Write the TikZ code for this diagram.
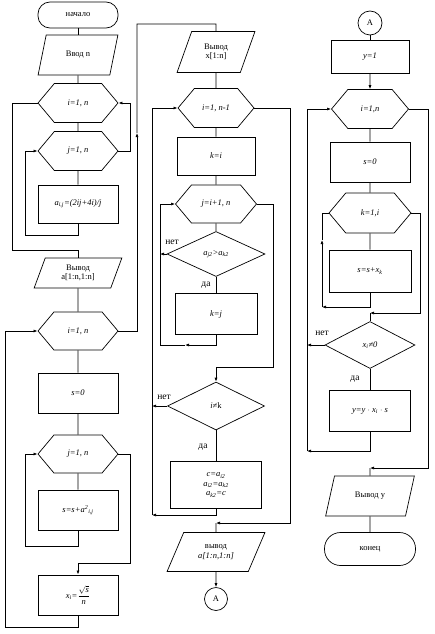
\documentclass[tikz,border=0pt]{standalone}
\usepackage{amsmath}
\usepackage{fontspec}
\setmainfont{Liberation Serif}
\usetikzlibrary{arrows.meta,shapes.geometric,shapes.symbols}
\newcommand{\sub}[1]{\textsubscript{\textit{#1}}}

\begin{document}
\begin{tikzpicture}[
    x=1pt, y=-1pt,
    >={Latex[length=4pt,width=3pt]},
    line width=0.7pt,
    every node/.style={font=\fontsize{8.5}{9.5}\selectfont, inner sep=1pt, align=center},
    termbox/.style={draw, rounded corners=12pt, minimum width=80pt, minimum height=26pt},
    iobox/.style={draw, trapezium, trapezium left angle=70, trapezium right angle=110,
      trapezium stretches=true, minimum width=80pt, minimum height=40pt},
    procbox/.style={draw, rectangle, line width=1pt, minimum width=80pt, minimum height=40pt},
    hexbox/.style={draw, signal, signal to=east and west, signal pointer angle=100,
      minimum width=80pt, minimum height=39pt},
    condbox/.style={draw, diamond, aspect=2, minimum width=97pt, minimum height=46pt},
    connbox/.style={draw, circle, minimum size=23pt, inner sep=0pt},
    lbl/.style={font=\fontsize{9.5}{10}\selectfont}
  ]
  \useasboundingbox (0,0) rectangle (434,634);

  % column 1: fill matrix, compute x
  \node[termbox] (start) at (78,15) {начало};
  \node[iobox] (inN) at (78,55) {Ввод n};
  \node[hexbox] (cycI1) at (78,103) {\textit{i=1, n}};
  \node[hexbox] (cycJ1) at (78,151) {\textit{j=1, n}};
  \node[procbox, minimum height=38pt] (fillA) at (78,204) {\textit{a}\sub{i,j}\textit{=(2ij+4i)/j}};
  \node[iobox, minimum width=88pt, minimum height=30pt,
    trapezium left angle=72, trapezium right angle=108] (outA) at (78,273) {Вывод\\a[1:n,1:n]};
  \node[hexbox, minimum height=38pt] (cycI2) at (78,331) {\textit{i=1, n}};
  \node[procbox] (zeroS) at (78,393) {\textit{s=0}};
  \node[hexbox, minimum height=38pt] (cycJ2) at (78,454) {\textit{j=1, n}};
  \node[procbox] (sumS) at (78,510) {\textit{s=s+a}\textsuperscript{\textit{2}}\sub{i,j}};
  \node[procbox] (calcX) at (78,595) {\textit{x}\sub{i}\textit{=}$\dfrac{\sqrt{\textit{s}}}{\textit{n}}$};

  \draw (start) -- (inN);
  \draw (inN) -- (cycI1);
  \draw (cycI1) -- (cycJ1);
  \draw (cycJ1) -- (fillA);
  \draw[->] (fillA.south) |- (25,235) |- (cycJ1.west);
  \draw[->] (cycJ1.east) -| (130,103) -- (cycI1.east);
  \draw (cycI1.west) -| (12,250) -| (outA.north);
  \draw (outA) -- (cycI2);
  \draw (cycI2) -- (zeroS);
  \draw (zeroS) -- (cycJ2);
  \draw (cycJ2) -- (sumS);
  \draw[->] (sumS.south) |- (25,546) |- (cycJ2.west);
  \draw[->] (cycJ2.east) -| (130,563) -| (calcX.north);
  \draw[->] (calcX.south) |- (5,627) |- (cycI2.west);
  \draw[->] (cycI2.east) -| (137,133);

  % column 2: sorting
  \node[iobox, minimum width=78pt, minimum height=41pt,
    trapezium left angle=67, trapezium right angle=113] (outX) at (216,52) {Вывод\\x[1:n]};
  \node[hexbox, minimum width=76pt] (cycI3) at (216,108) {\textit{i=1, n-1}};
  \node[procbox, minimum width=78pt, minimum height=38pt] (setK) at (216,156) {\textit{k=i}};
  \node[hexbox, minimum width=81pt, minimum height=38pt] (cycJ3) at (216,204) {\textit{j=i+1, n}};
  \node[condbox, minimum width=98pt, minimum height=45pt] (cmpA) at (216,254)
    {\textit{a}\sub{j2}\textit{>a}\sub{k2}};
  \node[procbox, minimum width=82pt, minimum height=41pt] (setKj) at (216,314) {\textit{k=j}};
  \node[condbox, minimum width=97pt, minimum height=48pt] (cmpK) at (216,406) {\textit{i≠}k};
  \node[procbox, minimum width=91pt, minimum height=47pt] (swap) at (216,485)
    {\textit{c=a}\sub{i2}\\\textit{a}\sub{i2}\textit{=a}\sub{k2}\\\textit{a}\sub{k2}\textit{=c}};
  \node[iobox, minimum width=98pt, minimum height=39pt,
    trapezium left angle=60, trapezium right angle=120] (outA2) at (216,552) {вывод\\\textit{a[1:n,1:n]}};
  \node[connbox] (jumpA) at (216,599) {A};

  \node[lbl] (no1) at (172,242) {нет};
  \node[lbl] (yes1) at (206,285) {да};
  \node[lbl] (no2) at (164,397) {нет};
  \node[lbl] (yes2) at (203,447) {да};

  \draw (137,133) |- (216,24) -- (outX.north);
  \draw (outX) -- (cycI3);
  \draw (cycI3) -- (setK);
  \draw (setK) -- (cycJ3);
  \draw (cycJ3) -- (cmpA);
  \draw (cmpA) -- (setKj);
  \draw[->] (cmpA.west) -- (160,254);
  \draw[->] (setKj.south) |- (185,345);
  \draw[->] (185,345) -| (160,204) -- (cycJ3.west);
  \draw[->] (cycJ3.east) -| (273,367) -| (cmpK.north);
  \draw[->] (cmpK.west) -- (152,406);
  \draw (cmpK) -- (swap);
  \draw[->] (swap.south) |- (152,515);
  \draw[->] (152,515) |- (cycI3.west);
  \draw[->] (cycI3.east) -| (290,523) -- (216,523);
  \draw (216,523) -- (outA2.north);
  \draw[->] (outA2) -- (jumpA);

  % column 3: product
  \node[connbox, minimum size=24pt] (landA) at (370,23) {A};
  \node[procbox, minimum width=78pt, minimum height=32pt] (initY) at (370,57) {\textit{y=1}};
  \node[hexbox, minimum width=77pt] (cycI4) at (370,109) {\textit{i=1,n}};
  \node[procbox] (resetS) at (370,162) {\textit{s=0}};
  \node[hexbox, minimum width=82pt, minimum height=40pt] (cycK) at (370,213) {\textit{k=1,i}};
  \node[procbox, minimum width=82pt, minimum height=42pt] (addX) at (370,271) {\textit{s=s+x}\sub{k}};
  \node[condbox, minimum width=90pt, minimum height=47pt] (cmpX) at (370,345) {\textit{x}\sub{i}\textit{≠0}};
  \node[procbox, minimum width=81pt, minimum height=41pt] (mulY) at (370,411)
    {\textit{y=y} $\cdot$ \textit{x}\sub{i} $\cdot$ \textit{s}};
  \node[iobox, minimum width=89pt, minimum height=40pt,
    trapezium left angle=67, trapezium right angle=113] (outY) at (370,496) {Вывод y};
  \node[termbox, minimum width=91pt, minimum height=33pt, rounded corners=16pt] (stop) at (370,549) {конец};

  \node[lbl] (no3) at (322,333) {нет};
  \node[lbl] (yes3) at (355,379) {да};

  \draw (landA) -- (initY);
  \draw[->] (initY) -- (cycI4);
  \draw (cycI4) -- (resetS);
  \draw (resetS) -- (cycK);
  \draw (cycK) -- (addX);
  \draw[->] (addX.south) |- (322,307);
  \draw[->] (322,307) -- (322,240);
  \draw (322,240) |- (cycK.west);
  \draw[->] (cycK.east) -| (420,313) -- (370,313);
  \draw (370,313) -- (cmpX.north);
  \draw[->] (cmpX.west) -- (307,345);
  \draw (cmpX) -- (mulY);
  \draw[->] (mulY.south) |- (307,451);
  \draw[->] (307,451) |- (cycI4.west);
  \draw[->] (cycI4.east) -| (428,468) -- (370,468);
  \draw (370,468) -- (outY.north);
  \draw (outY) -- (stop);
\end{tikzpicture}
\end{document}
